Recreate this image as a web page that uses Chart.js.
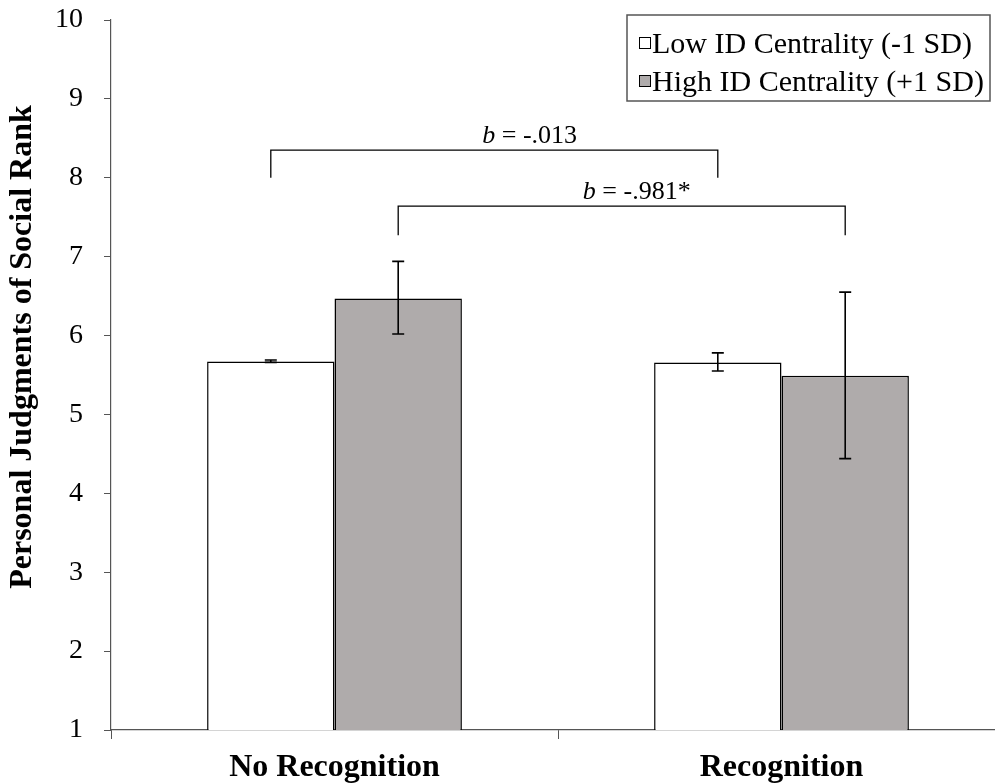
<!DOCTYPE html>
<html>
<head>
<meta charset="utf-8">
<script src="https://cdn.jsdelivr.net/npm/chart.js@4"></script>
<style>
  html, body { margin: 0; padding: 0; background: #fff; overflow: hidden; }
  #wrap { width: 1005px; height: 784px; }
</style>
</head>
<body>
<div id="wrap"><canvas id="chart" width="1005" height="784"></canvas></div>
<script>
// data
const categories = ['No Recognition', 'Recognition'];
const seriesNames = ['Low ID Centrality (-1 SD)', 'High ID Centrality (+1 SD)'];
const lowValues = [5.67, 5.66];
const highValues = [6.47, 5.49];
const lowErrMin = [5.66, 5.55];
const lowErrMax = [5.69, 5.78];
const highErrMin = [6.02, 4.44];
const highErrMax = [6.94, 6.55];
const yTicks = [1, 2, 3, 4, 5, 6, 7, 8, 9, 10];
// comparison brackets: which series, top value, foot value, label
const bracketSeries = [0, 1];
const bracketTop = [8.35, 7.64];
const bracketFoot = [8.0, 7.27];
const bracketLabels = [' = -.013', ' = -.981*'];

const SERIF = '"Liberation Serif", "Times New Roman", serif';

const errorBars = {
    id: 'errorBars',
    afterDatasetsDraw(chart) {
        const ctx = chart.ctx;
        const y = chart.scales.y;
        const lows = [lowErrMin, highErrMin];
        const highs = [lowErrMax, highErrMax];
        ctx.save();
        ctx.strokeStyle = '#000';
        ctx.lineWidth = 1.6;
        chart.data.datasets.forEach((ds, i) => {
            const meta = chart.getDatasetMeta(i);
            meta.data.forEach((bar, j) => {
                const x = bar.x;
                const y1 = y.getPixelForValue(lows[i][j]);
                const y2 = y.getPixelForValue(highs[i][j]);
                ctx.beginPath();
                ctx.moveTo(x, y1); ctx.lineTo(x, y2);
                ctx.moveTo(x - 6, y1); ctx.lineTo(x + 6, y1);
                ctx.moveTo(x - 6, y2); ctx.lineTo(x + 6, y2);
                ctx.stroke();
            });
        });
        ctx.restore();
    }
};

const brackets = {
    id: 'brackets',
    afterDatasetsDraw(chart) {
        const ctx = chart.ctx;
        const y = chart.scales.y;
        const textStart = [0.473, 0.413];
        ctx.save();
        ctx.strokeStyle = '#000';
        ctx.lineWidth = 1.3;
        bracketSeries.forEach((s, k) => {
            const meta = chart.getDatasetMeta(s);
            const x1 = meta.data[0].x;
            const x2 = meta.data[1].x;
            const yt = y.getPixelForValue(bracketTop[k]);
            const yf = y.getPixelForValue(bracketFoot[k]);
            ctx.beginPath();
            ctx.moveTo(x1, yf); ctx.lineTo(x1, yt); ctx.lineTo(x2, yt); ctx.lineTo(x2, yf);
            ctx.stroke();
            // label: italic b + rest
            let tx = x1 + (x2 - x1) * textStart[k];
            const ty = yt - 7;
            ctx.fillStyle = '#000';
            ctx.textBaseline = 'alphabetic';
            ctx.textAlign = 'left';
            ctx.font = 'italic 26px ' + SERIF;
            ctx.fillText('b', tx, ty);
            tx += ctx.measureText('b').width;
            ctx.font = '26px ' + SERIF;
            ctx.fillText(bracketLabels[k], tx, ty);
        });
        ctx.restore();
    }
};

const boxLegend = {
    id: 'boxLegend',
    afterDraw(chart) {
        const ctx = chart.ctx;
        ctx.save();
        ctx.strokeStyle = '#555';
        ctx.lineWidth = 1.5;
        ctx.strokeRect(627, 15, 363, 86);
        ctx.font = '30px ' + SERIF;
        ctx.textBaseline = 'alphabetic';
        ctx.textAlign = 'left';
        chart.data.datasets.forEach((ds, i) => {
            const base = 53 + i * 38;
            ctx.fillStyle = ds.backgroundColor;
            ctx.fillRect(639, base - 16, 11, 11);
            ctx.strokeStyle = '#000';
            ctx.lineWidth = 1;
            ctx.strokeRect(639.5, base - 15.5, 11, 11);
            ctx.fillStyle = '#000';
            ctx.fillText(ds.label, 652, base);
        });
        ctx.restore();
    }
};

new Chart(document.getElementById('chart'), {
    type: 'bar',
    data: {
        labels: categories,
        datasets: [
            { label: seriesNames[0], data: lowValues, backgroundColor: '#ffffff', borderColor: '#000', borderWidth: 1.5 },
            { label: seriesNames[1], data: highValues, backgroundColor: '#afabab', borderColor: '#000', borderWidth: 1.5 }
        ]
    },
    options: {
        responsive: false,
        animation: false,
        events: [],
        categoryPercentage: 0.57,
        barPercentage: 1.0,
        layout: { padding: 0 },
        plugins: { legend: { display: false }, tooltip: { enabled: false } },
        scales: {
            x: {
                grid: { drawOnChartArea: false, tickLength: 9, color: '#555', offset: true },
                border: { color: '#555', width: 1.2 },
                ticks: { color: '#000', padding: 10, font: { family: SERIF, size: 32, weight: 'bold' } },
                afterFit(scale) { scale.height = 54; }
            },
            y: {
                min: 1,
                max: 10,
                afterBuildTicks(scale) { scale.ticks = yTicks.map(v => ({ value: v })); },
                grid: { drawOnChartArea: false, tickLength: 7, color: '#555' },
                border: { color: '#555', width: 1.2 },
                ticks: { color: '#000', padding: 21, font: { family: SERIF, size: 28 } },
                title: {
                    display: true,
                    text: '\u00a0\u00a0\u00a0\u00a0\u00a0\u00a0\u00a0Personal Judgments of Social Rank',
                    color: '#000',
                    font: { family: SERIF, size: 32, weight: 'bold' },
                    padding: { top: 4, bottom: 0 }
                },
                afterFit(scale) {
                    scale.width = 111;
                    scale.paddingTop = 20;
                    scale.paddingBottom = 17;
                }
            }
        }
    },
    plugins: [errorBars, brackets, boxLegend]
});
</script>
</body>
</html>
